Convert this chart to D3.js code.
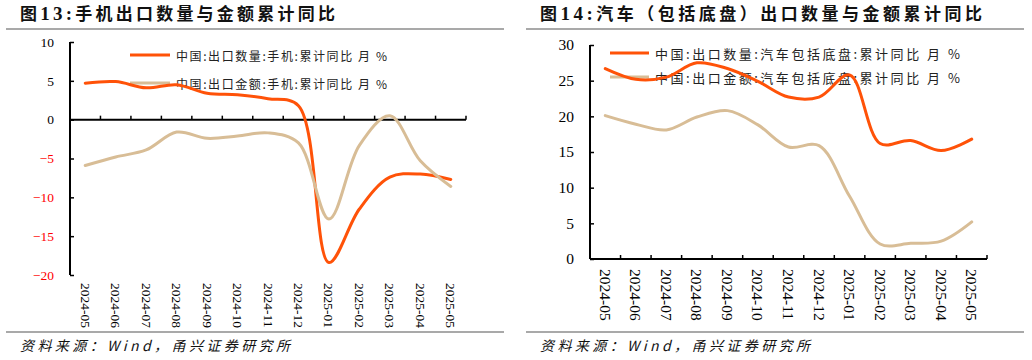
<!DOCTYPE html>
<html><head><meta charset="utf-8">
<script src="https://cdn.jsdelivr.net/npm/d3@7/dist/d3.min.js"></script>
<style>body{margin:0;background:#fff}svg{display:block}</style>
</head><body>
<svg id="c" width="1032" height="360"></svg>
<script>
const months = ["2024-05","2024-06","2024-07","2024-08","2024-09","2024-10","2024-11","2024-12","2025-01","2025-02","2025-03","2025-04","2025-05"];
const phoneQty = [4.7,4.9,4.1,4.5,3.4,3.2,2.7,1.8,-18.4,-11.5,-7.4,-7.0,-7.7];
const phoneVal = [-5.9,-4.8,-3.9,-1.6,-2.4,-2.1,-1.7,-3.0,-12.8,-3.3,0.5,-5.3,-8.6];
const carQty = [26.7,25.2,25.5,27.5,26.7,24.9,22.7,22.7,25.8,16.2,16.6,15.2,16.8];
const carVal = [20.1,18.9,18.1,19.9,20.8,18.8,15.7,15.9,8.8,2.1,2.2,2.5,5.2];
const phoneTicks = [10,5,0,-5,-10,-15,-20];
const carTicks = [30,25,20,15,10,5,0];
const phoneLegend = ["中国:出口数量:手机:累计同比 月 %","中国:出口金额:手机:累计同比 月 %"];
const carLegend = ["中国:出口数量:汽车包括底盘:累计同比 月 %","中国:出口金额:汽车包括底盘:累计同比 月 %"];

const ORANGE = "#FF5208", TAN = "#D8BD96";
const CJK = "'Noto Sans CJK SC', sans-serif";
const SERIF = "'Liberation Serif', 'Times New Roman', serif";
const svg = d3.select("#c");

function panel(o){
  const g = svg.append("g");
  // title
  const t = g.append("text").attr("x", o.titleX).attr("y", 20)
    .attr("font-family", CJK).attr("font-weight", "bold").attr("font-size", 17)
    .attr("textLength", o.titleW).attr("lengthAdjust", "spacing").attr("fill", "#111");
  t.append("tspan").text("图");
  t.append("tspan").attr("font-family", SERIF).attr("font-size", 19).text(o.num + ":");
  t.append("tspan").text(o.titleRest);
  // separators
  g.append("line").attr("x1", o.sepX0).attr("x2", o.sepX1).attr("y1", 29).attr("y2", 29).attr("stroke", "#555").attr("stroke-width", 1.2);
  g.append("line").attr("x1", o.sepX0).attr("x2", o.sepX1).attr("y1", 332).attr("y2", 332).attr("stroke", "#555").attr("stroke-width", 1.2);
  // source
  g.append("text").attr("x", o.titleX).attr("y", 351).attr("font-family", CJK).attr("font-style", "italic")
    .attr("font-size", 14).attr("textLength", 270).attr("lengthAdjust", "spacing").attr("fill", "#111")
    .text("资料来源：Wind，甬兴证券研究所");

  const x = d3.scaleBand().domain(months).range([o.x0, o.x1]).padding(0);
  const y = d3.scaleLinear().domain([d3.min(o.ticks), d3.max(o.ticks)]).range([o.yBottom, o.yTop]);

  // y axis
  const ya = g.append("g").attr("transform", `translate(${o.x0},0)`)
    .call(d3.axisLeft(y).tickValues(o.ticks).tickSize(-4).tickPadding(0).tickFormat(d3.format("d")));
  ya.select(".domain").attr("stroke", "#000").attr("stroke-width", 2).attr("d", `M0,${o.yTop}V${o.yBottom}`);
  ya.selectAll(".tick line").attr("stroke", "#000").attr("stroke-width", 1.5);
  ya.selectAll(".tick text").attr("font-family", SERIF).attr("font-size", o.fs)
    .attr("x", o.labelEnd - o.x0).attr("fill", d => d < 0 && o.redNeg ? "#FF0000" : "#000");

  // x axis line at y = 0
  const y0 = y(0);
  g.append("line").attr("x1", o.x0).attr("x2", o.x1).attr("y1", y0).attr("y2", y0).attr("stroke", "#000").attr("stroke-width", 2);
  const bounds = months.map(m => x(m)).concat([x(months[months.length-1]) + x.bandwidth()]);
  g.selectAll(".xt").data(bounds).join("line").attr("x1", d => d).attr("x2", d => d)
    .attr("y1", y0).attr("y2", y0 - 4).attr("stroke", "#000").attr("stroke-width", 1.5);
  // x labels
  g.selectAll(".xl").data(months).join("text")
    .attr("transform", d => `translate(${x(d) + x.bandwidth()/2},${o.xLabTop}) rotate(90)`)
    .attr("dominant-baseline", "central").attr("font-family", SERIF).attr("font-size", o.fs).attr("fill", "#000")
    .text(d => d);

  // legend
  const colors = [ORANGE, TAN];
  o.legend.forEach((txt, i) => {
    const ly = o.legY[i];
    g.append("line").attr("x1", o.legX0).attr("x2", o.legX1).attr("y1", ly).attr("y2", ly)
      .attr("stroke", colors[i]).attr("stroke-width", 3);
    g.append("text").attr("x", o.legTX).attr("y", ly).attr("dominant-baseline", "central")
      .attr("font-family", CJK).attr("font-size", o.legFs).attr("fill", "#222")
      .attr("textLength", o.legW).attr("lengthAdjust", "spacing").text(txt);
  });

  // lines
  const line = d3.line().x((d, i) => x(months[i]) + x.bandwidth()/2).y(d => y(d)).curve(d3.curveCatmullRom.alpha(0.5));
  [o.s1, o.s2].forEach((s, i) => {
    g.append("path").attr("d", line(s)).attr("fill", "none").attr("stroke", colors[i])
      .attr("stroke-width", 3).attr("stroke-linejoin", "round").attr("stroke-linecap", "round");
  });
}

panel({num: "13", titleRest: "手机出口数量与金额累计同比", titleX: 20, titleW: 315, sepX0: 6, sepX1: 504,
  x0: 70, x1: 466, yTop: 42, yBottom: 275, ticks: phoneTicks, fs: 13.5, labelEnd: 54, redNeg: true,
  xLabTop: 283, legend: phoneLegend, legY: [55, 83], legX0: 130, legX1: 170, legTX: 176, legW: 211, legFs: 12,
  s1: phoneQty, s2: phoneVal});

panel({num: "14", titleRest: "汽车（包括底盘）出口数量与金额累计同比", titleX: 540, titleW: 442, sepX0: 526, sepX1: 1024,
  x0: 590, x1: 987, yTop: 45, yBottom: 259, ticks: carTicks, fs: 15.5, labelEnd: 574, redNeg: false,
  xLabTop: 269, legend: carLegend, legY: [53, 77], legX0: 610, legX1: 649, legTX: 655, legW: 305, legFs: 13,
  s1: carQty, s2: carVal});
</script>
</body></html>
